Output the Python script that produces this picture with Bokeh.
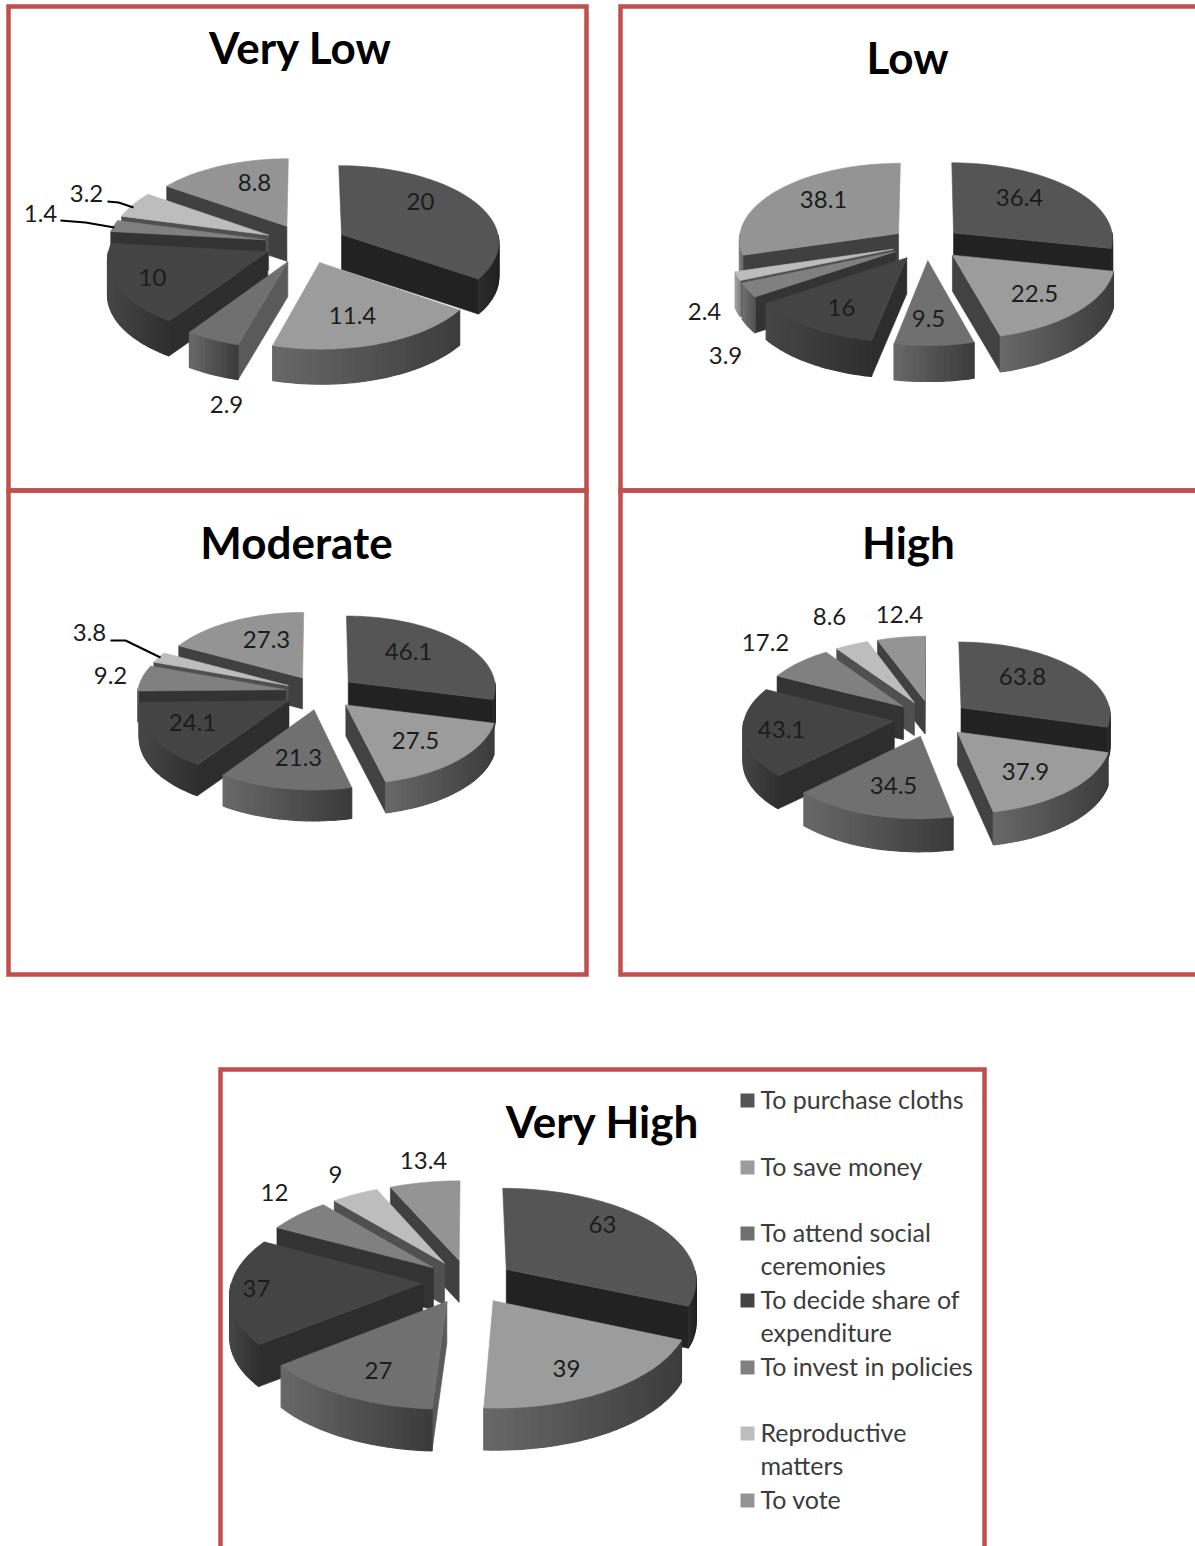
import math
from bokeh.plotting import figure
from bokeh.models import Range1d
from bokeh.core.properties import value
from bokeh.embed import file_html
from bokeh.resources import INLINE

# ---------- data ----------
CATEGORIES = ["To purchase cloths", "To save money", "To attend social\nceremonies",
              "To decide share of\nexpenditure", "To invest in policies",
              "Reproductive\nmatters", "To vote"]
VERY_LOW = [20, 11.4, 2.9, 10, 1.4, 3.2, 8.8]
LOW = [36.4, 22.5, 9.5, 16, 3.9, 2.4, 38.1]
MODERATE = [46.1, 27.5, 21.3, 24.1, 9.2, 3.8, 27.3]
HIGH = [63.8, 37.9, 34.5, 43.1, 17.2, 8.6, 12.4]
VERY_HIGH = [63, 39, 27, 37, 12, 9, 13.4]

# ---------- styles ----------
TOP = ["#555555", "#9c9c9c", "#707070", "#444444", "#808080", "#bdbdbd", "#949494"]
CUT = ["#222222", "#424242", "#5a5a5a", "#2d2d2d", "#333333", "#505050", "#404040"]
WALL_L = [0x2c, 0x68, 0x68, 0x46, 0x70, 0xa0, 0x80]
WALL_R = [0x20, 0x3c, 0x3a, 0x2e, 0x50, 0x80, 0x60]
FRAME = "#c0504d"
FONT = "Lato"

# ---------- layout (page pixels) ----------
PANELS = [
    dict(title="Very Low", vals=VERY_LOW, cx=305, cy=243, rx=158, ry=76, k=.084, depth=35, e=.26, title_xy=(300, 46),
         labels=[(420, 201), (352, 315), (226, 404), (152, 277), (40, 213), (86, 193), (254, 182)]),
    dict(title="Low", vals=LOW, cx=926, cy=243, rx=160, ry=76.5, k=.07, depth=36, e=.22, title_xy=(907, 56),
         labels=[(1019, 197), (1034, 293), (928, 318), (841, 307), (725, 355), (704, 311), (823, 199)]),
    dict(title="Moderate", vals=MODERATE, cx=320, cy=692, rx=148, ry=72, k=.07, depth=31, e=.24, title_xy=(296, 541),
         labels=[(408, 651), (415, 740), (298, 757), (192, 722), (110, 675), (89, 632), (266, 639)]),
    dict(title="High", vals=HIGH, cx=931, cy=718, rx=150, ry=72.7, k=.082, depth=33, e=.25, title_xy=(908, 541),
         labels=[(1022, 676), (1025, 771), (893, 785), (781, 729), (765, 642), (829, 616), (899, 614)]),
    dict(title="Very High", vals=VERY_HIGH, cx=468, cy=1281, rx=191, ry=92, k=.104, depth=42, e=.24, title_xy=(602, 1120),
         labels=[(602, 1224), (566, 1368), (378, 1370), (256, 1288), (274, 1192), (335, 1174), (423, 1160)]),
]
FRAMES = [(8, 6, 586, 490), (620, 6, 1199, 490), (8, 490, 586, 974), (620, 490, 1199, 974), (220, 1069, 984, 1560)]
LEADERS = [([107, 118, 133], [201, 202, 207]), ([60, 85, 114], [220, 222, 227]), ([110, 125, 160], [640, 640, 657])]
LEGEND_Y = [1100, 1167, 1233, 1300, 1367, 1433, 1500]
LEGEND_TEXT_DY = -2
LEGEND_LINE = 33
LEGEND_X = 760
LEGEND_SWATCH_X = 747

W, H = 1195, 1546
p = figure(width=W, height=H, output_backend="svg", toolbar_location=None,
           x_range=Range1d(0, W), y_range=Range1d(H, 0),
           x_axis_location=None, y_axis_location=None, min_border=0)
p.grid.visible = False
p.outline_line_color = None


def gray(level):
    v = int(round(level))
    return "#%02x%02x%02x" % (v, v, v)


def draw_pie(P):
    total = sum(P["vals"])
    cx, cy, rx, ry, k, depth, e = (P[n] for n in ("cx", "cy", "rx", "ry", "k", "depth", "e"))

    def proj(U, V):
        s = 1 / (1 + k * V)
        return cx + rx * U * s, cy - ry * V * s, depth

    slices = []
    start = 0.0
    for i, v in enumerate(P["vals"]):
        sweep = v / total * 2 * math.pi
        slices.append((i, start, start + sweep))
        start += sweep
    slices.sort(key=lambda t: -math.cos((t[1] + t[2]) / 2))

    for i, t0, t1 in slices:
        mid = (t0 + t1) / 2
        ax, ay = e * math.sin(mid), e * math.cos(mid)
        n = max(2, int(math.degrees(t1 - t0) / 2))
        angles = [t0 + (t1 - t0) * j / n for j in range(n + 1)]
        pts = [proj(ax + math.sin(t), ay + math.cos(t)) for t in angles]
        apex = proj(ax, ay)
        # cut faces
        faces = []
        if math.sin(t0) < 0:
            faces.append(pts[0])
        if math.sin(t1) > 0:
            faces.append(pts[-1])
        for f in faces:
            p.patch([apex[0], f[0], f[0], apex[0]],
                    [apex[1], f[1], f[1] + f[2], apex[1] + apex[2]],
                    fill_color=CUT[i], line_color=CUT[i], line_width=0.6)
        # outer wall, shaded strip by strip
        wall = [(a, b) for a, b in zip(range(n), range(1, n + 1))
                if math.cos((angles[a] + angles[b]) / 2) < 0]
        if wall:
            xs_all = [pts[a][0] for a, b in wall] + [pts[b][0] for a, b in wall]
            xmin, xmax = min(xs_all), max(xs_all)
            for a, b in wall:
                A, B = pts[a], pts[b]
                f = ((A[0] + B[0]) / 2 - xmin) / max(xmax - xmin, 1)
                c = gray(WALL_L[i] + (WALL_R[i] - WALL_L[i]) * f)
                p.patch([A[0], B[0], B[0], A[0]],
                        [A[1], B[1], B[1] + B[2], A[1] + A[2]],
                        fill_color=c, line_color=c, line_width=1.2)
        # top face
        p.patch([apex[0]] + [q[0] for q in pts], [apex[1]] + [q[1] for q in pts],
                fill_color=TOP[i], line_color=TOP[i], line_width=0.6)
    return


for x0, y0, x1, y1 in FRAMES:
    p.quad(left=[x0], right=[x1], top=[y0], bottom=[y1], fill_color=None,
           line_color=FRAME, line_width=4.5, line_join="miter")

for P in PANELS:
    draw_pie(P)
    p.text(x=[q[0] for q in P["labels"]], y=[q[1] for q in P["labels"]],
           text=[f"{v:g}" for v in P["vals"]], text_font=value(FONT), text_font_size="24px",
           text_color="#1c1c1c", text_align="center", text_baseline="middle")
    p.text(x=[P["title_xy"][0]], y=[P["title_xy"][1]], text=[P["title"]], text_font=value(FONT),
           text_font_size="44px", text_font_style="bold", text_color="#000000",
           text_align="center", text_baseline="middle")

for xs, ys in LEADERS:
    p.line(xs, ys, line_color="#000000", line_width=2)

p.scatter(x=[LEGEND_SWATCH_X] * 7, y=LEGEND_Y, marker="square", size=14,
          fill_color=TOP, line_color=None)
lx, ly, lt = [], [], []
for name, y in zip(CATEGORIES, LEGEND_Y):
    for j, line in enumerate(name.split("\n")):
        lx.append(LEGEND_X)
        ly.append(y + j * LEGEND_LINE + LEGEND_TEXT_DY)
        lt.append(line)
p.text(x=lx, y=ly, text=lt, text_font=value(FONT), text_font_size="25px", text_color="#3c3c3c",
       text_align="left", text_baseline="middle")

open("out.html", "w").write(file_html(p, INLINE))
